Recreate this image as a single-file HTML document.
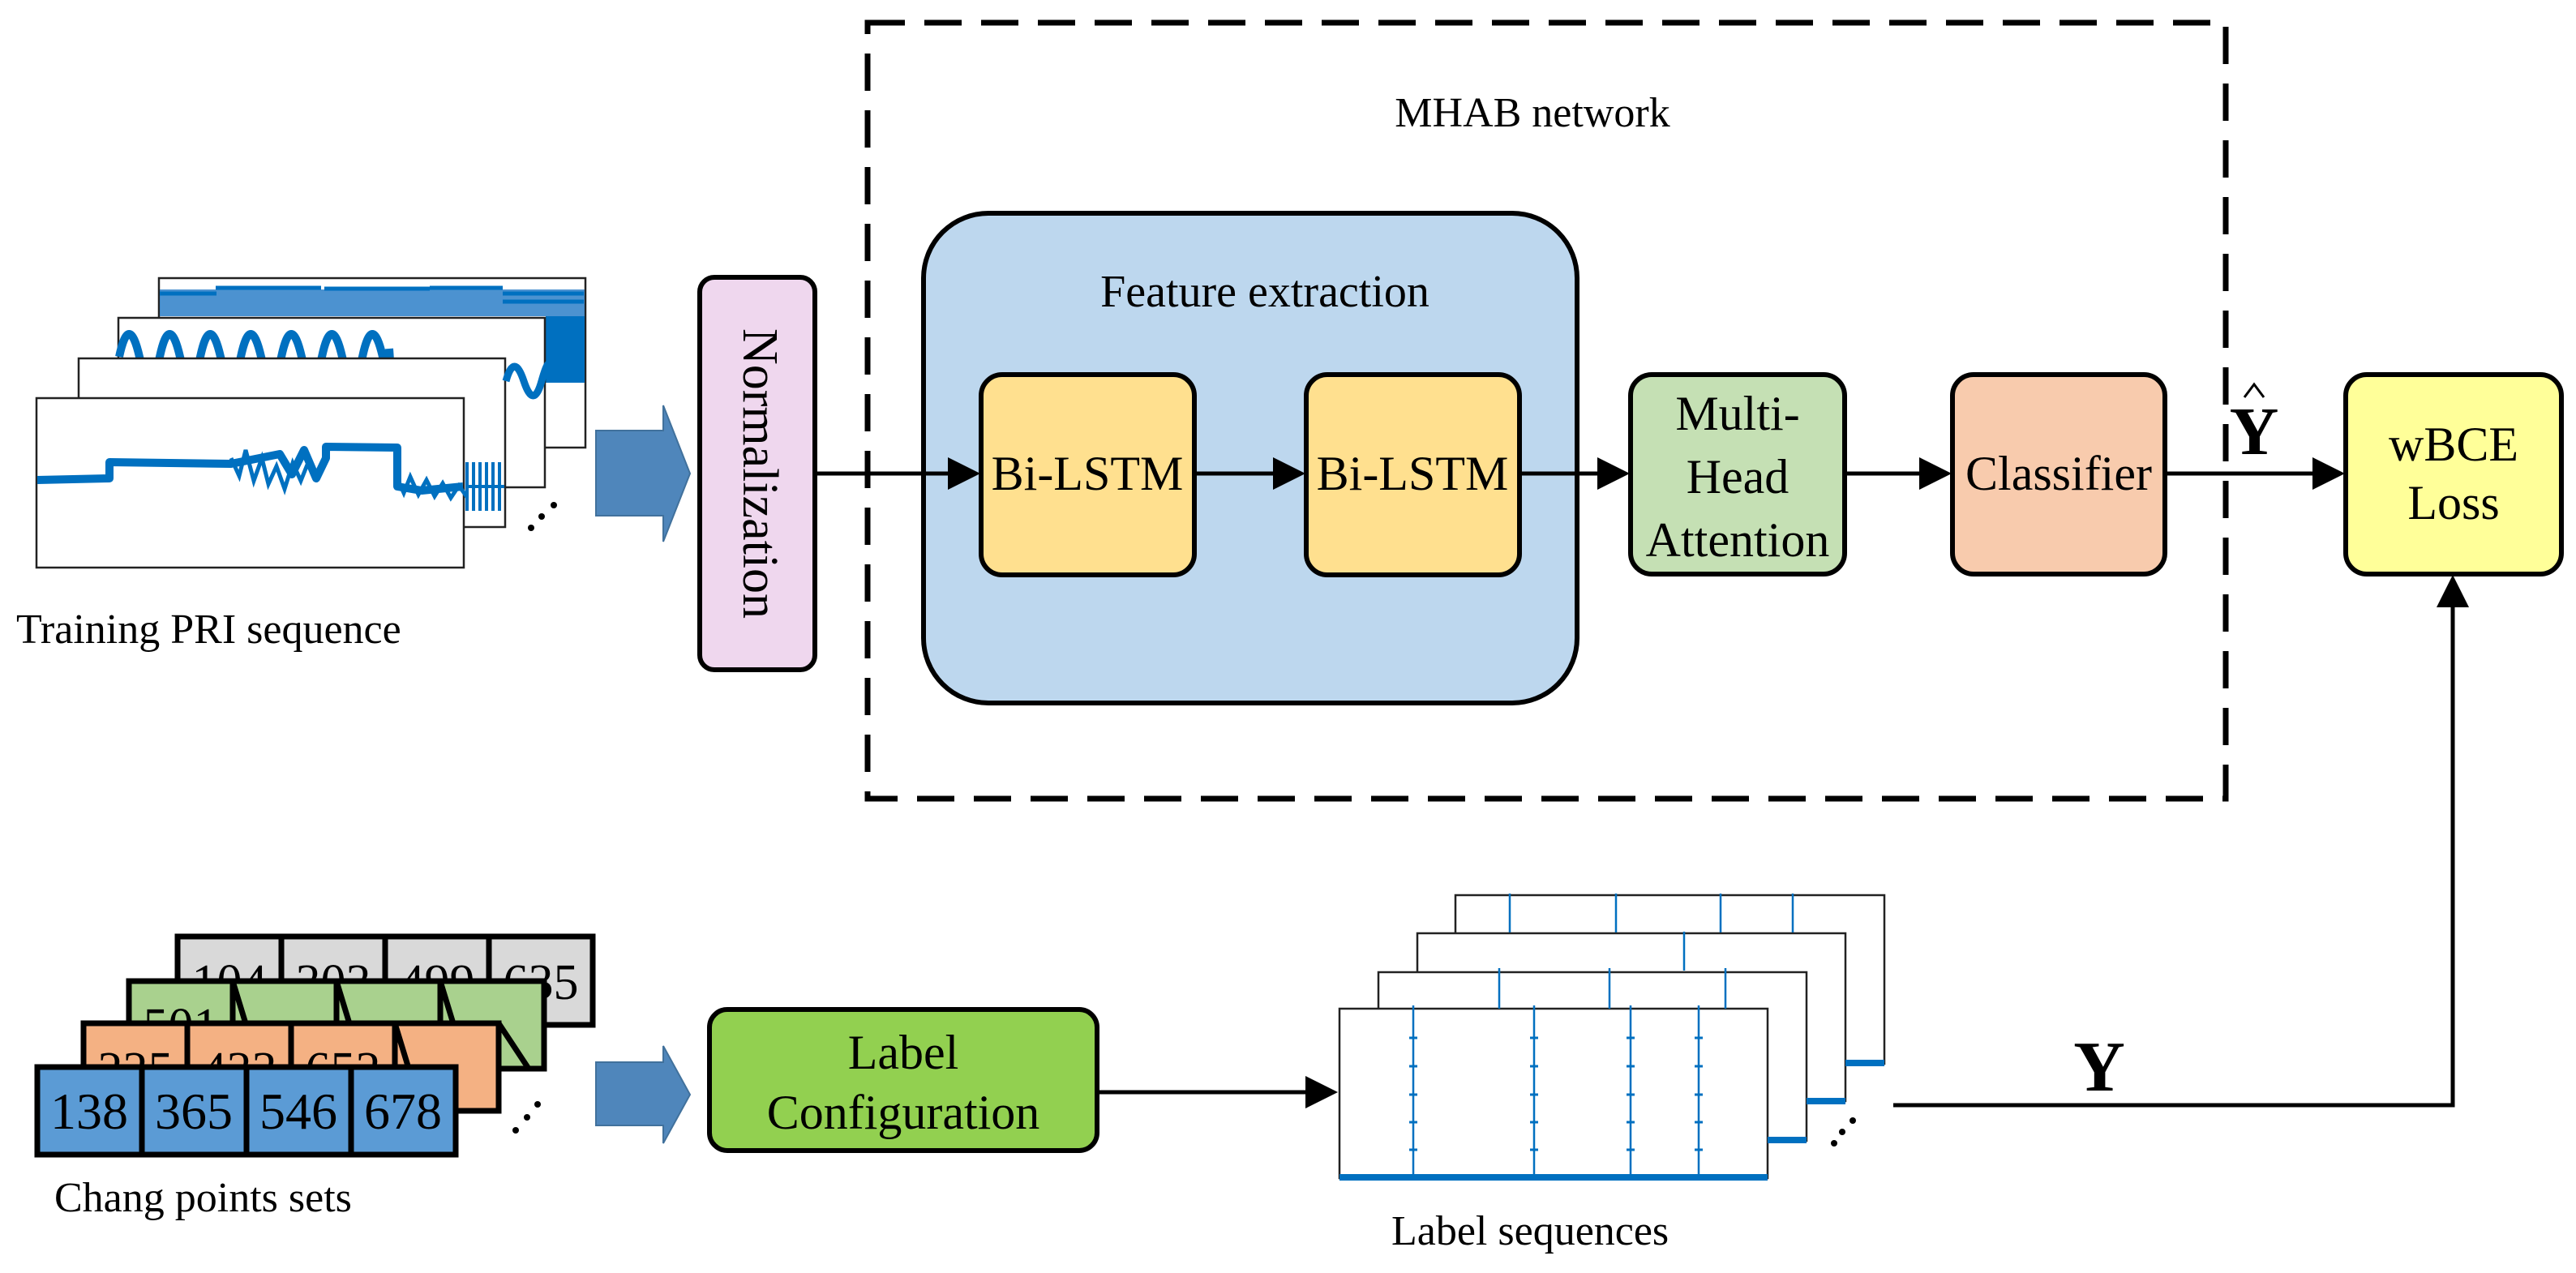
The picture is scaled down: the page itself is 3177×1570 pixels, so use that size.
<!DOCTYPE html>
<html><head><meta charset="utf-8"><style>
html,body{margin:0;padding:0;background:#fff;}
svg{display:block;}
text{font-family:"Liberation Serif",serif;fill:#000;}
</style></head><body>
<svg width="3177" height="1570" viewBox="0 0 3177 1570" xmlns="http://www.w3.org/2000/svg">
<defs>
<marker id="ah" markerWidth="8" markerHeight="8" refX="7" refY="4" orient="auto" markerUnits="strokeWidth">
<path d="M0,0 L8,4 L0,8 z" fill="#000"/></marker>
</defs>

<rect x="1070" y="28" width="1675" height="957" fill="none" stroke="#000" stroke-width="7" stroke-dasharray="46,24"/>
<text x="1890" y="156" font-size="52" text-anchor="middle">MHAB network</text>

<rect x="1139" y="263" width="806" height="604" rx="80" fill="#bdd7ee" stroke="#000" stroke-width="6"/>
<text x="1560" y="378" font-size="56" text-anchor="middle">Feature extraction</text>

<rect x="1210" y="462" width="263" height="247" rx="26" fill="#ffe08f" stroke="#000" stroke-width="6"/>
<text x="1341" y="604" font-size="60" text-anchor="middle">Bi-LSTM</text>
<rect x="1611" y="462" width="263" height="247" rx="26" fill="#ffe08f" stroke="#000" stroke-width="6"/>
<text x="1742" y="604" font-size="60" text-anchor="middle">Bi-LSTM</text>

<rect x="2011" y="462" width="264" height="246" rx="26" fill="#c5e0b4" stroke="#000" stroke-width="6"/>
<text x="2143" y="530" font-size="60" text-anchor="middle">Multi-</text>
<text x="2143" y="608" font-size="60" text-anchor="middle">Head</text>
<text x="2143" y="686" font-size="60" text-anchor="middle">Attention</text>

<rect x="2408" y="462" width="262" height="246" rx="26" fill="#f8cbad" stroke="#000" stroke-width="6"/>
<text x="2539" y="604" font-size="60" text-anchor="middle">Classifier</text>

<rect x="2893" y="462" width="266" height="246" rx="26" fill="#ffff99" stroke="#000" stroke-width="6"/>
<text x="3026" y="568" font-size="60" text-anchor="middle">wBCE</text>
<text x="3026" y="640" font-size="60" text-anchor="middle">Loss</text>

<rect x="863" y="342" width="142" height="484" rx="18" fill="#efd7ee" stroke="#000" stroke-width="6"/>
<text transform="translate(917,584) rotate(90)" font-size="62" text-anchor="middle">Normalization</text>

<g stroke="#000" stroke-width="5" fill="none">
<line x1="1005" y1="584" x2="1204" y2="584" marker-end="url(#ah)"/>
<line x1="1473" y1="584" x2="1605" y2="584" marker-end="url(#ah)"/>
<line x1="1874" y1="584" x2="2005" y2="584" marker-end="url(#ah)"/>
<line x1="2275" y1="584" x2="2402" y2="584" marker-end="url(#ah)"/>
<line x1="2670" y1="584" x2="2887" y2="584" marker-end="url(#ah)"/>
<line x1="1351" y1="1347" x2="1645" y2="1347" marker-end="url(#ah)"/>
<polyline points="2335,1363 3025,1363 3025,714" marker-end="url(#ah)"/>
</g>
<text x="2780" y="560" font-size="84" font-weight="bold" text-anchor="middle">Y</text>
<path d="M2768,490 L2780,474 L2792,490" stroke="#000" stroke-width="3" fill="none"/>
<text x="2589" y="1345" font-size="88" font-weight="bold" text-anchor="middle">Y</text>

<path d="M735,531 L818,531 L818,500 L851,584 L818,668 L818,636 L735,636 z" fill="#4f86bb" stroke="#41719c" stroke-width="2"/>
<path d="M735,1310 L818,1310 L818,1290 L851,1350 L818,1410 L818,1388 L735,1388 z" fill="#4f86bb" stroke="#41719c" stroke-width="2"/>

<!-- Training plots -->
<g stroke="#222" stroke-width="2.5" fill="#fff">
<rect x="196" y="343" width="526" height="209"/>
</g>
<rect x="197" y="357" width="524" height="33" fill="#1f77c4" opacity="0.8"/>
<path d="M197,362 h70 M266,355 h130 M400,356 h130 M530,355 h90 M620,362 h100 M620,372 h100" stroke="#0070c0" stroke-width="5"/>
<rect x="673" y="390" width="48" height="82" fill="#0070c0"/>
<g stroke="#222" stroke-width="2.5" fill="#fff"><rect x="146" y="392" width="526" height="209"/></g>
<path d="M147,440 q12,-56 25,0 t25,0 t25,0 t25,0 t25,0 t25,0 t25,0 t25,0 t25,0 t25,0 t25,0 t25,0 t25,0 t8,-10" stroke="#0070c0" stroke-width="10" fill="none"/>
<g stroke="#222" stroke-width="2.5" fill="#fff"><rect x="97" y="442" width="526" height="208"/></g>
<path d="M624,470 q10,-36 22,0 t22,0 t10,-10" stroke="#0070c0" stroke-width="9" fill="none"/>
<path d="M576,570 v60 M584,570 v60 M592,570 v60 M600,570 v60 M608,570 v60 M616,570 v60 M576,600 h46" stroke="#0070c0" stroke-width="4"/>
<g stroke="#222" stroke-width="2.5" fill="#fff"><rect x="45" y="491" width="527" height="209"/></g>
<path d="M46,592 L135,590 L135,570 L285,572 L345,560 L360,585 L375,555 L390,590 L402,565 L402,551 L490,552 L490,600 L520,605 L571,600" stroke="#0070c0" stroke-width="10" fill="none" stroke-linejoin="round"/>
<path d="M285,565 l10,22 l8,-32 l10,38 l10,-28 l8,32 l10,-22 l10,28 l10,-32 l10,22 l8,-20" stroke="#0070c0" stroke-width="5" fill="none"/>
<path d="M490,590 l8,18 l8,-20 l10,22 l10,-18 l10,20 l10,-16 l10,18 l10,-15 l10,14" stroke="#0070c0" stroke-width="5" fill="none"/>
<g fill="#000"><circle cx="655" cy="651" r="4"/><circle cx="668" cy="637" r="4"/><circle cx="683" cy="623" r="4"/></g>
<text x="20" y="793" font-size="52">Training PRI sequence</text>

<!-- change point sets -->
<g stroke="#000" stroke-width="7" fill="#d9d9d9">
<rect x="219" y="1155" width="128" height="109"/><rect x="347" y="1155" width="128" height="109"/><rect x="475" y="1155" width="128" height="109"/><rect x="603" y="1155" width="128" height="109"/>
</g>
<g font-size="62" text-anchor="middle"><text x="283" y="1232">104</text><text x="411" y="1232">303</text><text x="539" y="1232">499</text><text x="667" y="1232">635</text></g>
<g stroke="#000" stroke-width="7">
<g fill="#a9d18e"><rect x="159" y="1210" width="128" height="108"/><rect x="287" y="1210" width="128" height="108"/><rect x="415" y="1210" width="128" height="108"/><rect x="543" y="1210" width="128" height="108"/></g>
<path d="M287,1210 L320,1318 M415,1210 L448,1318 M543,1210 L576,1318" fill="none"/>
</g>
<text x="223" y="1286" font-size="62" text-anchor="middle">501</text>
<g stroke="#000" stroke-width="7">
<g fill="#f4b183"><rect x="103" y="1262" width="128" height="108"/><rect x="231" y="1262" width="128" height="108"/><rect x="359" y="1262" width="128" height="108"/><rect x="487" y="1262" width="128" height="108"/></g>
<path d="M487,1262 L520,1370 M615,1262 L652,1318" fill="none"/>
</g>
<g font-size="62" text-anchor="middle"><text x="167" y="1340">225</text><text x="295" y="1340">433</text><text x="423" y="1340">652</text></g>
<g stroke="#000" stroke-width="7" fill="#5b9bd5">
<rect x="46" y="1316" width="129" height="108"/><rect x="175" y="1316" width="129" height="108"/><rect x="304" y="1316" width="129" height="108"/><rect x="433" y="1316" width="129" height="108"/>
</g>
<g font-size="64" text-anchor="middle"><text x="110" y="1392">138</text><text x="239" y="1392">365</text><text x="368" y="1392">546</text><text x="497" y="1392">678</text></g>
<g fill="#000"><circle cx="636" cy="1394" r="4"/><circle cx="650" cy="1378" r="4"/><circle cx="663" cy="1362" r="4"/></g>
<text x="67" y="1494" font-size="52">Chang points sets</text>

<rect x="875" y="1245" width="478" height="174" rx="22" fill="#92d050" stroke="#000" stroke-width="6"/>
<text x="1114" y="1318" font-size="60" text-anchor="middle">Label</text>
<text x="1114" y="1392" font-size="60" text-anchor="middle">Configuration</text>

<!-- label sequence plots -->
<g stroke="#222" stroke-width="2.5" fill="#fff">
<rect x="1795" y="1104" width="529" height="208"/>
<rect x="1748" y="1151" width="528" height="207"/>
<rect x="1700" y="1199" width="528" height="208"/>
<rect x="1652" y="1244" width="528" height="209"/>
</g>
<g fill="#0070c0"><rect x="2276" y="1307" width="48" height="8"/><rect x="2228" y="1354" width="48" height="8"/><rect x="2180" y="1402" width="48" height="8"/><rect x="1652" y="1448" width="528" height="8"/></g>
<g stroke="#0070c0" stroke-width="2.5">
<path d="M1862,1102 v48 M1993,1102 v48 M2122,1102 v48 M2211,1102 v48 M2077,1149 v48 M1849,1194 v50 M1985,1194 v50 M2128,1194 v50 M1743,1240 v212 M1892,1240 v212 M2011,1240 v212 M2095,1240 v212"/>
</g>
<g stroke="#0070c0" stroke-width="3">
<path d="M1738,1280 h10 M1738,1315 h10 M1738,1350 h10 M1738,1384 h10 M1738,1418 h10 M1887,1280 h10 M1887,1315 h10 M1887,1350 h10 M1887,1384 h10 M1887,1418 h10 M2006,1280 h10 M2006,1315 h10 M2006,1350 h10 M2006,1384 h10 M2006,1418 h10 M2090,1280 h10 M2090,1315 h10 M2090,1350 h10 M2090,1384 h10 M2090,1418 h10"/>
</g>
<g fill="#000"><circle cx="2262" cy="1410" r="4"/><circle cx="2272" cy="1396" r="4"/><circle cx="2285" cy="1382" r="4"/></g>
<text x="1716" y="1535" font-size="52">Label sequences</text>
</svg>
</body></html>
